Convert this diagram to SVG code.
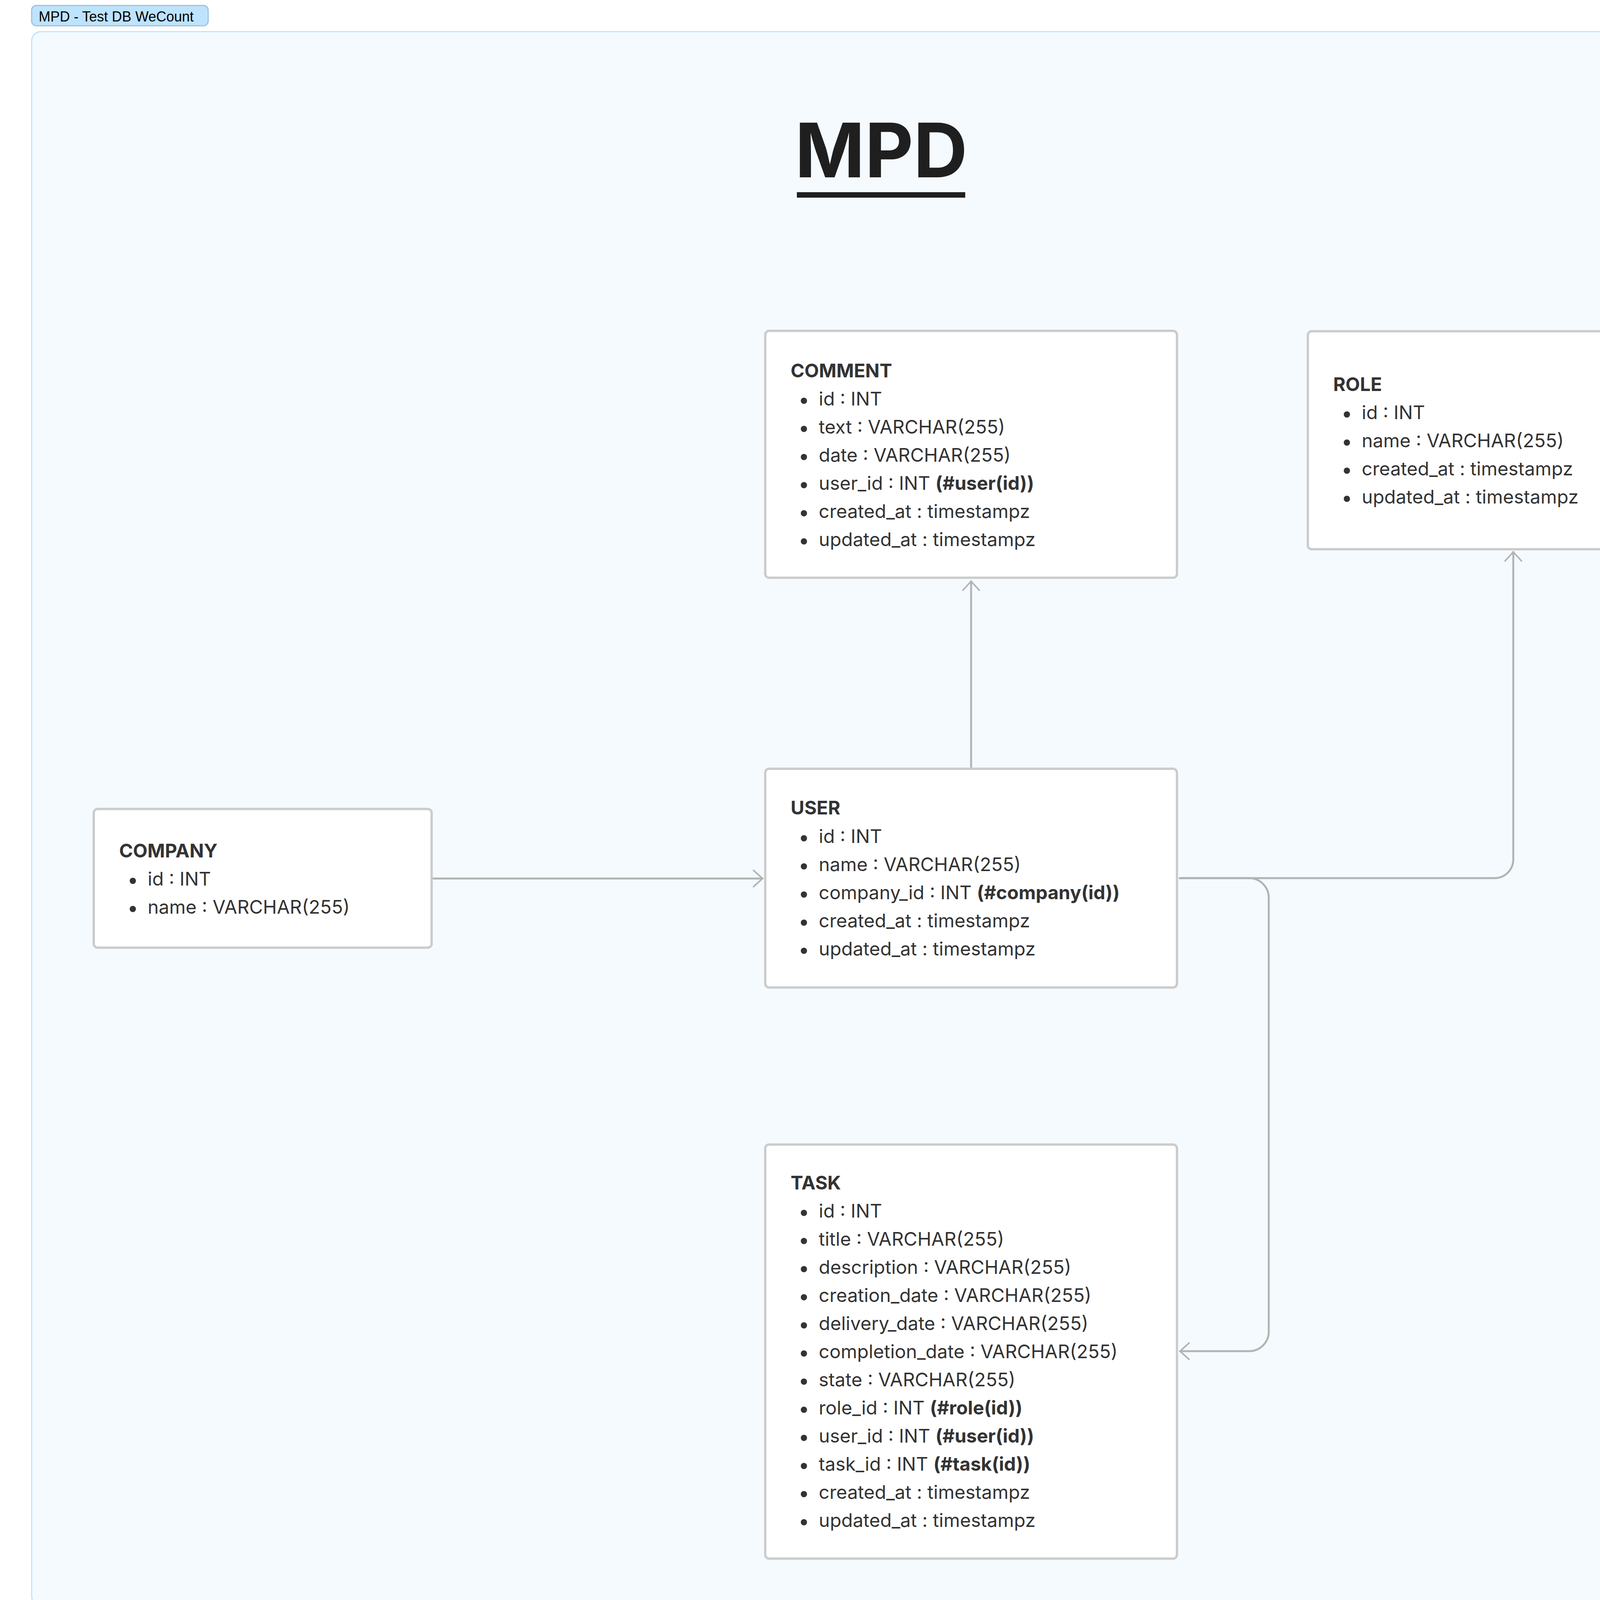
<svg xmlns="http://www.w3.org/2000/svg" width="4640" height="4192" viewBox="0 0 4640 4192">
<style>
.box{fill:#ffffff;stroke:#cccccc;stroke-width:6}
.t{font-family:Inter,"Noto Sans","Liberation Sans",sans-serif;font-size:48px;fill:#333333}
.h{font-weight:700}
.b{font-weight:700}
.dot{fill:#333333}
.conn{fill:none;stroke:#b3b3b3;stroke-width:5;stroke-linejoin:round;stroke-linecap:round}
</style>
<defs>
<marker id="arr" markerUnits="userSpaceOnUse" viewBox="-30 -30 40 60" markerWidth="40" markerHeight="60" refX="0" refY="0" orient="auto">
<path d="M-23,-21 L0,0 L-23,21" fill="none" stroke="#b3b3b3" stroke-width="4" stroke-linecap="round" stroke-linejoin="round"/>
</marker>
</defs>
<rect x="0" y="0" width="4640" height="4192" fill="#ffffff"/>
<g id="frame">
<rect x="81" y="81" width="4478" height="4030" rx="24" fill="#f5faff" stroke="#bee3fd" stroke-width="3"/>
<rect x="81" y="14" width="452" height="52" rx="12" fill="#bee3fc" stroke="#9fc3dc" stroke-width="3"/>
<text x="99" y="55" font-family="'Liberation Sans',Arial,sans-serif" font-size="36" fill="#000000">MPD - Test DB WeCount</text>
</g>
<g id="title">
<text x="2256" y="454" text-anchor="middle" font-family="Inter,'Noto Sans','Liberation Sans',sans-serif" font-size="192" font-weight="700" fill="#1f1f1f">MPD</text>
<rect x="2040" y="492" width="431" height="14" fill="#1f1f1f"/>
</g>
<g id="connectors">
<path class="conn" d="M2486,1965 V1488" marker-end="url(#arr)"/>
<path class="conn" d="M1108,2249 H1952" marker-end="url(#arr)"/>
<path class="conn" d="M3020,2248 H3826 A48,48 0 0 0 3874,2200 V1413" marker-end="url(#arr)"/>
<path class="conn" d="M3020,2248 H3198 A50,50 0 0 1 3248,2298 V3409 A50,50 0 0 1 3198,3459 H3021" marker-end="url(#arr)"/>
</g>
<g id="comment">
<rect class="box" x="1959" y="847" width="1054" height="632" rx="10"/>
<text class="t h" x="2024" y="966">COMMENT</text>
<circle class="dot" cx="2058" cy="1026" r="8"/><text class="t" x="2096" y="1038">id : INT</text>
<circle class="dot" cx="2058" cy="1098" r="8"/><text class="t" x="2096" y="1110">text : VARCHAR(255)</text>
<circle class="dot" cx="2058" cy="1170" r="8"/><text class="t" x="2096" y="1182">date : VARCHAR(255)</text>
<circle class="dot" cx="2058" cy="1242" r="8"/><text class="t" x="2096" y="1254">user_id : INT <tspan class="b">(#user(id))</tspan></text>
<circle class="dot" cx="2058" cy="1314" r="8"/><text class="t" x="2096" y="1326">created_at : timestampz</text>
<circle class="dot" cx="2058" cy="1386" r="8"/><text class="t" x="2096" y="1398">updated_at : timestampz</text>
</g>
<g id="role">
<rect class="box" x="3348" y="848" width="1053" height="558" rx="10"/>
<text class="t h" x="3413" y="1001">ROLE</text>
<circle class="dot" cx="3448" cy="1061" r="8"/><text class="t" x="3486" y="1073">id : INT</text>
<circle class="dot" cx="3448" cy="1133" r="8"/><text class="t" x="3486" y="1145">name : VARCHAR(255)</text>
<circle class="dot" cx="3448" cy="1205" r="8"/><text class="t" x="3486" y="1217">created_at : timestampz</text>
<circle class="dot" cx="3448" cy="1277" r="8"/><text class="t" x="3486" y="1289">updated_at : timestampz</text>
</g>
<g id="user">
<rect class="box" x="1959" y="1968" width="1054" height="560" rx="10"/>
<text class="t h" x="2024" y="2085">USER</text>
<circle class="dot" cx="2058" cy="2146" r="8"/><text class="t" x="2096" y="2158">id : INT</text>
<circle class="dot" cx="2058" cy="2218" r="8"/><text class="t" x="2096" y="2230">name : VARCHAR(255)</text>
<circle class="dot" cx="2058" cy="2290" r="8"/><text class="t" x="2096" y="2302">company_id : INT <tspan class="b">(#company(id))</tspan></text>
<circle class="dot" cx="2058" cy="2362" r="8"/><text class="t" x="2096" y="2374">created_at : timestampz</text>
<circle class="dot" cx="2058" cy="2434" r="8"/><text class="t" x="2096" y="2446">updated_at : timestampz</text>
</g>
<g id="company">
<rect class="box" x="240" y="2071" width="865" height="355" rx="10"/>
<text class="t h" x="305" y="2195">COMPANY</text>
<circle class="dot" cx="340" cy="2255" r="8"/><text class="t" x="378" y="2267">id : INT</text>
<circle class="dot" cx="340" cy="2327" r="8"/><text class="t" x="378" y="2339">name : VARCHAR(255)</text>
</g>
<g id="task">
<rect class="box" x="1959" y="2930" width="1054" height="1060" rx="10"/>
<text class="t h" x="2024" y="3045">TASK</text>
<circle class="dot" cx="2058" cy="3105" r="8"/><text class="t" x="2096" y="3117">id : INT</text>
<circle class="dot" cx="2058" cy="3177" r="8"/><text class="t" x="2096" y="3189">title : VARCHAR(255)</text>
<circle class="dot" cx="2058" cy="3249" r="8"/><text class="t" x="2096" y="3261">description : VARCHAR(255)</text>
<circle class="dot" cx="2058" cy="3321" r="8"/><text class="t" x="2096" y="3333">creation_date : VARCHAR(255)</text>
<circle class="dot" cx="2058" cy="3393" r="8"/><text class="t" x="2096" y="3405">delivery_date : VARCHAR(255)</text>
<circle class="dot" cx="2058" cy="3465" r="8"/><text class="t" x="2096" y="3477">completion_date : VARCHAR(255)</text>
<circle class="dot" cx="2058" cy="3537" r="8"/><text class="t" x="2096" y="3549">state : VARCHAR(255)</text>
<circle class="dot" cx="2058" cy="3609" r="8"/><text class="t" x="2096" y="3621">role_id : INT <tspan class="b">(#role(id))</tspan></text>
<circle class="dot" cx="2058" cy="3681" r="8"/><text class="t" x="2096" y="3693">user_id : INT <tspan class="b">(#user(id))</tspan></text>
<circle class="dot" cx="2058" cy="3753" r="8"/><text class="t" x="2096" y="3765">task_id : INT <tspan class="b">(#task(id))</tspan></text>
<circle class="dot" cx="2058" cy="3825" r="8"/><text class="t" x="2096" y="3837">created_at : timestampz</text>
<circle class="dot" cx="2058" cy="3897" r="8"/><text class="t" x="2096" y="3909">updated_at : timestampz</text>
</g>
</svg>
